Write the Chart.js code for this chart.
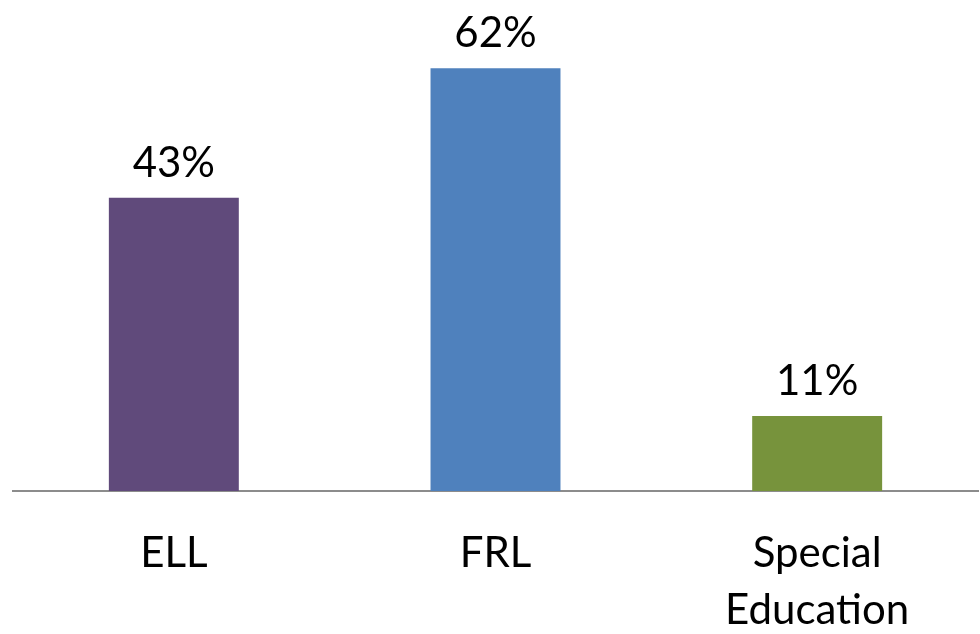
<!DOCTYPE html>
<html>
<head>
<meta charset="utf-8">
<script src="https://cdn.jsdelivr.net/npm/chart.js@4.4.1/dist/chart.umd.min.js"></script>
<style>
  html, body { margin: 0; padding: 0; background: #ffffff; }
  #wrap { width: 980px; height: 634px; }
</style>
</head>
<body>
<div id="wrap"><canvas id="chart" width="980" height="634"></canvas></div>
<script>
// Données
const categories = ['ELL', 'FRL', ['Special', 'Education']];
const valeurs = [43, 62, 11];
const couleurs = ['#604A7B', '#4F81BD', '#77933C'];

const police = "Lato, 'Open Sans', sans-serif";

// Étiquettes de valeur au-dessus des barres
const etiquettesPlugin = {
    id: 'etiquettes',
    afterDatasetsDraw(chart) {
        const ctx = chart.ctx;
        const meta = chart.getDatasetMeta(0);
        ctx.save();
        ctx.font = '42px ' + police;
        ctx.fillStyle = '#000000';
        ctx.textAlign = 'center';
        ctx.textBaseline = 'alphabetic';
        meta.data.forEach((bar, i) => {
            ctx.fillText(valeurs[i] + '%', bar.x, bar.y - 21);
        });
        ctx.restore();
    }
};

new Chart(document.getElementById('chart'), {
    type: 'bar',
    data: {
        labels: categories,
        datasets: [{
            data: valeurs,
            backgroundColor: couleurs,
            borderWidth: 0,
            barPercentage: 0.404,
            categoryPercentage: 1
        }]
    },
    options: {
        responsive: false,
        animation: false,
        devicePixelRatio: 1,
        layout: { padding: { left: 13, right: 2, top: 0, bottom: 0 } },
        plugins: {
            legend: { display: false },
            tooltip: { enabled: false }
        },
        scales: {
            x: {
                grid: { display: false },
                border: { display: true, color: '#8C8C8C', width: 2 },
                ticks: {
                    color: '#000000',
                    padding: 26,
                    font: { family: police, size: 42, lineHeight: 1.36 }
                },
                // hauteur fixe de l'axe pour caler la ligne de base
                afterFit(scale) {
                    scale.height = 143;
                }
            },
            y: {
                display: false,
                min: 0,
                max: 72
            }
        }
    },
    plugins: [etiquettesPlugin]
});
</script>
</body>
</html>
